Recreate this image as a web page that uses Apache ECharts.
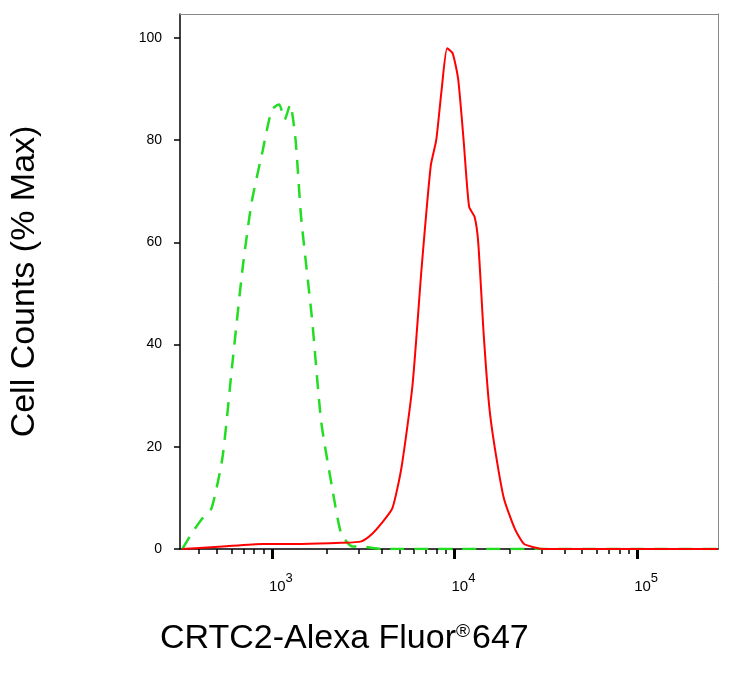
<!DOCTYPE html><html><head><meta charset="utf-8"><script src="https://cdn.jsdelivr.net/npm/echarts@6/dist/echarts.min.js"></script></head><body style="margin:0"><div id="c" style="width:754px;height:675px"></div><script>
// x values are log10(intensity)
const greenX=[2.51,2.56,2.62,2.67,2.73,2.78,2.84,2.89,2.95,3.0,3.04,3.07,3.10,3.13,3.16,3.22,3.27,3.33,3.38,3.44,3.49,3.60,4.0,4.5,5.0,5.44];
const greenY=[0,3,6,8,18,35,55,68,78,86,87,84,87,80,65,45,25,12,3,0.5,0.5,0,0,0,0,0];
const redX=[2.51,2.73,2.95,3.16,3.38,3.49,3.55,3.60,3.66,3.71,3.77,3.82,3.87,3.90,3.93,3.96,3.99,4.02,4.05,4.08,4.11,4.13,4.16,4.19,4.22,4.27,4.33,4.38,4.44,4.49,5.44];
const redY=[0,0.5,1,1,1.2,1.5,3,5,8,16,32,55,75,80,90,98,97,92,80,67,65,60,42,28,20,10,4,1,0.3,0,0];
const majorTicks=[3,4,5];
const minorTicks=[];[2,3,4].forEach(d=>{for(let k=2;k<=9;k++)minorTicks.push(d+Math.log10(k));});
const yTicks=[0,20,40,60,80,100];
const xMin=2.497,xMax=5.443;
const z=a=>a[0].map((v,i)=>[v,a[1][i]]);
const ch=echarts.init(document.getElementById('c'));
const axisBase={type:'value',min:xMin,max:xMax,splitLine:{show:false}};
ch.setOption({animation:false,
grid:{left:180,right:36,top:14,bottom:126},
xAxis:[
{...axisBase,axisLine:{lineStyle:{color:'#000',width:1.5}},
 axisTick:{customValues:minorTicks.filter(v=>v>xMin&&v<xMax),length:5,lineStyle:{color:'#000',width:1.5}},
 axisLabel:{customValues:majorTicks,margin:20,formatter:v=>'{b|10}{s|'+v+'}',rich:{b:{fontSize:15,fontFamily:'Liberation Sans',color:'#000',padding:[10,0,0,18]},s:{fontSize:13,fontFamily:'Liberation Sans',color:'#000',padding:[0,0,6,0]}}}},
{...axisBase,position:'bottom',axisLine:{show:false},axisLabel:{show:false},
 axisTick:{customValues:majorTicks,length:10,lineStyle:{color:'#000',width:3}}},
{...axisBase,position:'top',axisLine:{lineStyle:{color:'#888'}},axisTick:{show:false},axisLabel:{show:false}}
],
yAxis:[
{type:'value',min:0,max:104.7,splitLine:{show:false},axisLine:{lineStyle:{color:'#000',width:1.5}},
 axisTick:{customValues:yTicks,length:6,lineStyle:{color:'#000',width:1.5}},
 axisLabel:{customValues:yTicks,fontSize:14,fontFamily:'Liberation Sans',color:'#000',margin:18},
 name:'Cell Counts (% Max)',nameLocation:'middle',nameGap:138,nameTextStyle:{fontSize:34,fontFamily:'Liberation Sans',color:'#000'}},
{type:'value',min:0,max:104.7,position:'right',axisLine:{lineStyle:{color:'#888'}},axisTick:{show:false},axisLabel:{show:false},splitLine:{show:false}}
],
graphic:[{type:'text',left:160,top:622,style:{rich:{a:{fontSize:34,fontFamily:'Liberation Sans',fill:'#000'},r:{fontSize:19,fontFamily:'Liberation Sans',fill:'#000',padding:[0,2,14,0]}},text:'{a|CRTC2-Alexa Fluor}{r|®}{a|647}'}}],
series:[
{type:'line',data:z([greenX,greenY]),smooth:0.2,symbol:'none',lineStyle:{color:'#22dd22',width:2.5,type:[14,10]}},
{type:'line',data:z([redX,redY]),smooth:0.2,symbol:'none',lineStyle:{color:'#ff0000',width:2}}
]});
</script></body></html>
